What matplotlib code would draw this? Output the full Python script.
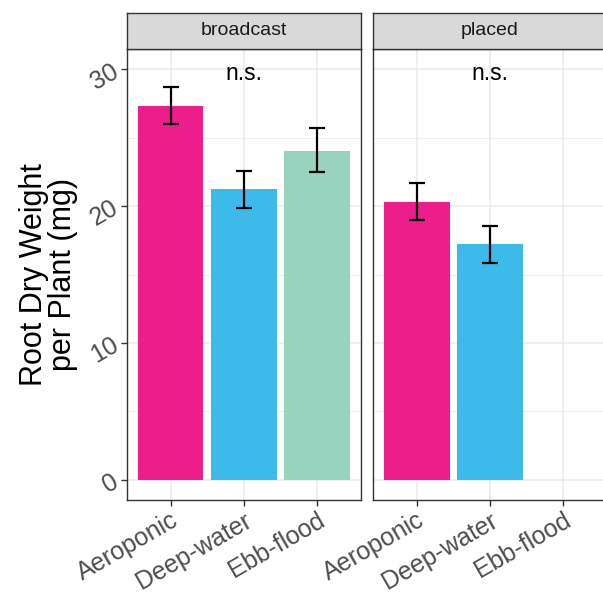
import matplotlib
matplotlib.use('Agg')
import matplotlib.pyplot as plt
import numpy as np

plt.rcParams['font.family'] = ['Liberation Sans', 'DejaVu Sans']

# data
facets = ['broadcast', 'placed']
systems = ['Aeroponic', 'Deep-water', 'Ebb-flood']
means = {
    'broadcast': [27.35, 21.23, 24.06],
    'placed': [20.32, 17.22, np.nan],
}
err_hi = {
    'broadcast': [28.72, 22.57, 25.70],
    'placed': [21.71, 18.57, np.nan],
}
err_lo = {
    'broadcast': [26.00, 19.88, 22.50],
    'placed': [18.98, 15.86, np.nan],
}
sig_labels = ['n.s.', 'n.s.']
sig_y = 29.2
bar_colors = ['#ED1E8C', '#3CBBEA', '#98D3C0']

W, H = 603, 593
fig = plt.figure(figsize=(W / 100, H / 100), dpi=100)

panel_left = [126.7, 373.0]
panel_w = 234.0
panel_top, panel_bot = 49.0, 500.0
strip_top = 12.7

grid_col = '#EBEBEB'
frame_col = '#333333'
tick_col = '#4D4D4D'

for i, facet in enumerate(facets):
    x0 = panel_left[i] / W
    ax = fig.add_axes([x0, 1 - panel_bot / H, panel_w / W, (panel_bot - panel_top) / H])
    x = np.arange(1, len(systems) + 1)
    m = np.array(means[facet])
    ok = ~np.isnan(m)
    ax.bar(x[ok], m[ok], width=0.9,
           color=[bar_colors[j] for j in range(len(systems)) if ok[j]], zorder=2)
    lo = np.array(err_lo[facet])
    hi = np.array(err_hi[facet])
    ax.errorbar(x[ok], m[ok], yerr=[m[ok] - lo[ok], hi[ok] - m[ok]], fmt='none',
                ecolor='black', elinewidth=1.6, capsize=6, capthick=1.6, zorder=3)
    ax.text(2, sig_y, sig_labels[i], ha='center', va='baseline', fontsize=16.5, color='black')

    ax.set_xlim(0.4, 3.6)
    ax.set_ylim(-1.5, 31.5)
    ax.set_xticks(x)
    ax.set_yticks([0, 10, 20, 30])
    ax.set_yticks([5, 15, 25], minor=True)
    ax.grid(True, which='major', color=grid_col, linewidth=1.1, zorder=0)
    ax.grid(True, which='minor', axis='y', color=grid_col, linewidth=0.6, zorder=0)
    ax.set_axisbelow(True)
    for s in ax.spines.values():
        s.set_color(frame_col)
        s.set_linewidth(1.0)
    ax.tick_params(axis='both', which='major', length=4, width=1.0, color=frame_col,
                   labelcolor=tick_col, labelsize=18)
    ax.tick_params(axis='x', pad=2)
    ax.tick_params(axis='y', which='minor', length=0)
    ax.set_xticklabels(systems, rotation=30, ha='right', va='top', rotation_mode='anchor')
    if i == 0:
        ax.set_yticklabels(['0', '10', '20', '30'], rotation=30, ha='right', va='center',
                           rotation_mode='anchor')
        ax.set_ylabel('Root Dry Weight\nper Plant (mg)', fontsize=22, color='black',
                      labelpad=6, linespacing=0.95)
    else:
        ax.tick_params(axis='y', labelleft=False, length=0)

    # facet strip
    sax = fig.add_axes([x0, 1 - panel_top / H, panel_w / W, (panel_top - strip_top) / H])
    sax.set_facecolor('#D9D9D9')
    sax.set_xticks([])
    sax.set_yticks([])
    for s in sax.spines.values():
        s.set_color(frame_col)
        s.set_linewidth(1.0)
    sax.text(0.5, 0.5, facet, ha='center', va='center', fontsize=14, color='#1A1A1A',
             transform=sax.transAxes)

fig.savefig('out.png', dpi=100)
